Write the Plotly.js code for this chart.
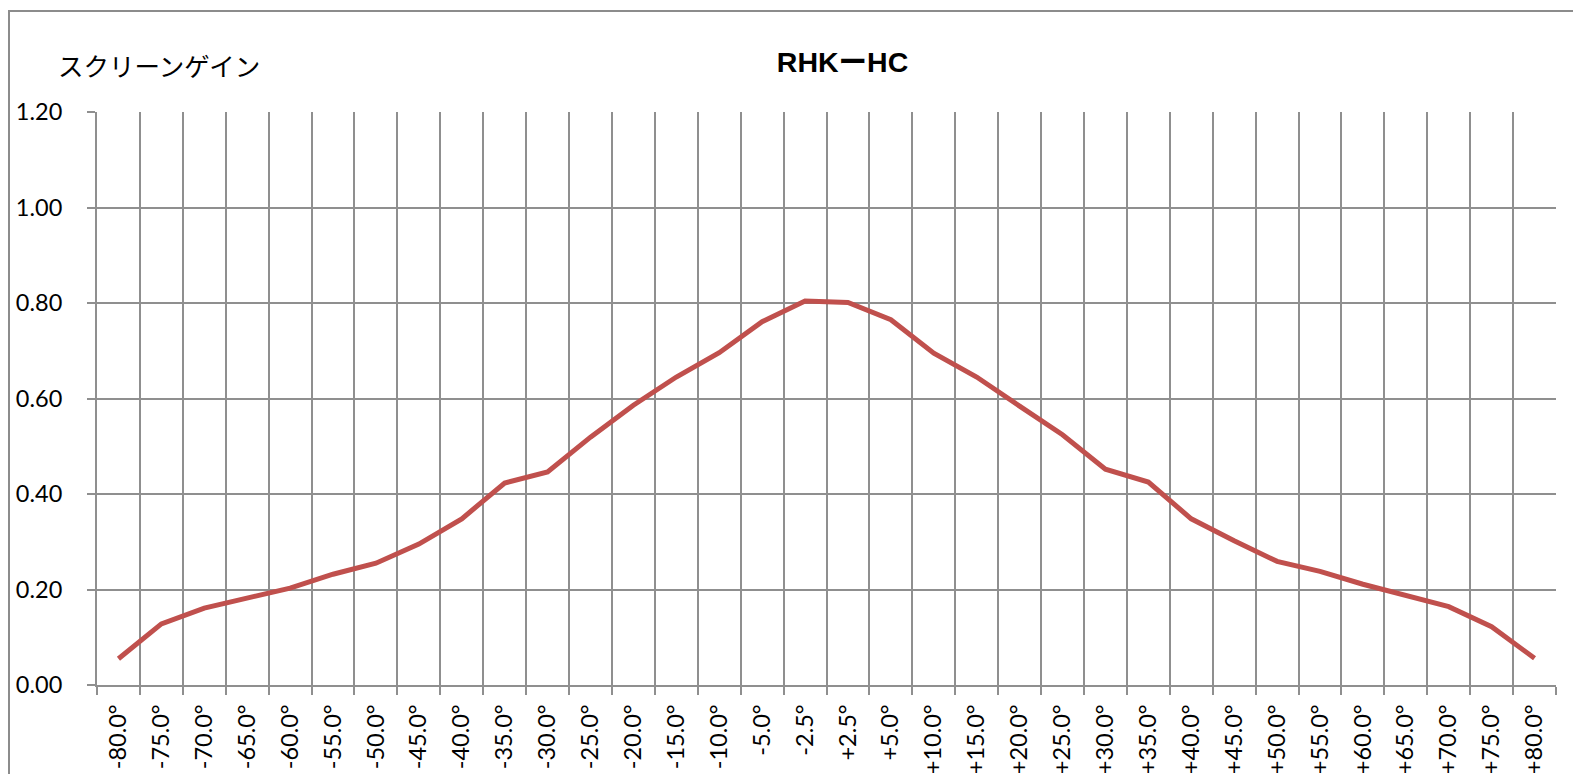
<!DOCTYPE html>
<html>
<head>
<meta charset="utf-8">
<script src="https://cdn.plot.ly/plotly-3.0.1.min.js"></script>
<style>
html, body { margin: 0; padding: 0; background: #ffffff; }
#frame { position: absolute; left: 8px; top: 10px; width: 1600px; height: 800px; border-left: 2px solid #8c8c8c; border-top: 2px solid #8c8c8c; }
#chart { position: absolute; left: 0; top: 0; width: 1573px; height: 774px; }
</style>
</head>
<body>
<div id="frame"></div>
<div id="chart"></div>
<script>
const categories = ["-80.0°","-75.0°","-70.0°","-65.0°","-60.0°","-55.0°","-50.0°","-45.0°","-40.0°","-35.0°","-30.0°","-25.0°","-20.0°","-15.0°","-10.0°","-5.0°","-2.5°",
  "+2.5°","+5.0°","+10.0°","+15.0°","+20.0°","+25.0°","+30.0°","+35.0°","+40.0°","+45.0°","+50.0°","+55.0°","+60.0°","+65.0°","+70.0°","+75.0°","+80.0°"];
const gain = [0.055,0.128,0.161,0.181,0.203,0.232,0.255,0.295,0.348,0.423,0.446,0.519,0.586,0.645,0.696,0.761,0.804,
  0.801,0.765,0.695,0.645,0.584,0.524,0.452,0.425,0.348,0.302,0.259,0.238,0.211,0.188,0.164,0.122,0.056];
const chartTitle = "RHKーHC";
const yTitle = "スクリーンゲイン";

const gridColor = "#8f8f8f";
const tickFont = { family: "Lato, 'Open Sans', sans-serif", size: 23.5, color: "#000000" };

Plotly.newPlot("chart", [{
  type: "scatter",
  mode: "lines",
  x: categories,
  y: gain,
  line: { color: "#C0504D", width: 5 },
  hoverinfo: "x+y"
}], {
  width: 1573, height: 774,
  margin: { l: 97, r: 17, t: 112, b: 89 },
  paper_bgcolor: "rgba(0,0,0,0)",
  plot_bgcolor: "#ffffff",
  showlegend: false,
  title: {
    text: chartTitle,
    font: { family: "'Liberation Sans', 'Noto Sans CJK JP', Arial, sans-serif", size: 28.5, color: "#000000", weight: "bold" },
    xref: "paper", x: 0.511, xanchor: "center",
    yref: "container", y: 1 - 62/774, yanchor: "middle"
  },
  xaxis: {
    type: "category",
    range: [-0.5, categories.length - 0.5],
    tickson: "boundaries",
    showgrid: true, gridcolor: gridColor, gridwidth: 2,
    ticks: "outside", ticklen: 8, tickwidth: 2, tickcolor: gridColor,
    tickangle: -90,
    tickfont: tickFont,
    ticklabelstandoff: 8,
    showline: true, linecolor: gridColor, linewidth: 2,
    zeroline: false,
    fixedrange: true
  },
  yaxis: {
    range: [0, 1.2],
    dtick: 0.2,
    tickformat: ".2f",
    showgrid: true, gridcolor: gridColor, gridwidth: 2,
    ticks: "outside", ticklen: 8, tickwidth: 2, tickcolor: gridColor,
    tickfont: tickFont,
    ticklabelstandoff: 20,
    showline: true, linecolor: gridColor, linewidth: 2,
    zeroline: false,
    fixedrange: true
  },
  annotations: [{
    text: yTitle,
    xref: "paper", yref: "paper",
    x: (56 - 97) / 1459, y: (685 - 65) / 573,
    xanchor: "left", yanchor: "middle",
    showarrow: false,
    font: { family: "'Noto Sans CJK JP', sans-serif", size: 25.5, color: "#000000" }
  }]
}, { displayModeBar: false, staticPlot: true });
</script>
</body>
</html>
